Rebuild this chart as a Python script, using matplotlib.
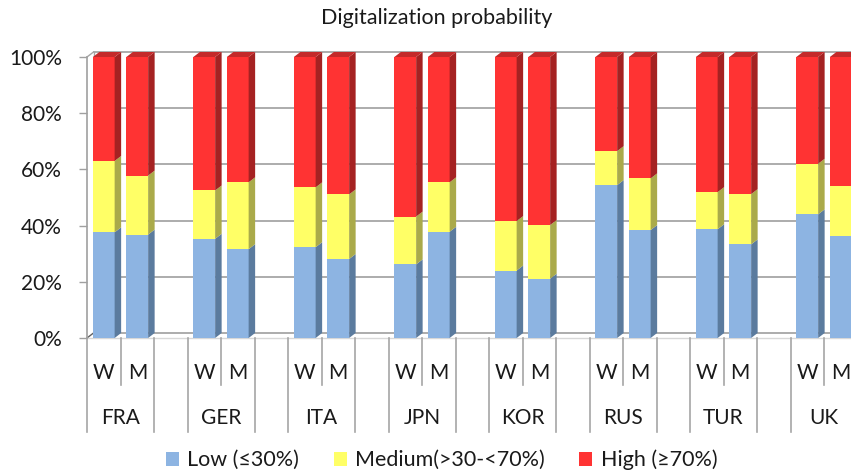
import matplotlib
matplotlib.use("Agg")
import matplotlib.pyplot as plt
from matplotlib.patches import Polygon, Patch
from matplotlib.ticker import FuncFormatter

FONT = ['Lato', 'DejaVu Sans']
plt.rcParams['font.family'] = FONT

countries = ['FRA', 'GER', 'ITA', 'JPN', 'KOR', 'RUS', 'TUR', 'UK']
sexes = ['W', 'M']
low_w = [37.6, 35.3, 32.3, 26.2, 24.0, 54.4, 38.7, 44.0]
low_m = [36.8, 31.6, 28.1, 37.8, 21.1, 38.4, 33.3, 36.4]
med_w = [25.4, 17.2, 21.3, 17.0, 17.6, 12.1, 13.2, 18.0]
med_m = [21.0, 23.8, 23.0, 17.6, 19.1, 18.4, 17.9, 17.8]
high_w = [37.0, 47.5, 46.4, 56.8, 58.4, 33.5, 48.1, 38.0]
high_m = [42.2, 44.6, 48.9, 44.6, 59.8, 43.2, 48.8, 45.8]
series_names = ['Low (≤30%)', 'Medium(>30-<70%)', 'High (≥70%)']
yticks = [0, 20, 40, 60, 80, 100]

front = ['#8DB4E2', '#FFFF66', '#FF3333']
side = ['#5B7B9E', '#AAAA4A', '#A52222']
top_col = ['#6F94C0', '#D0D050', '#C42A2A']
TXT = '#1A1A1A'

W, H = 851, 474
fig = plt.figure(figsize=(W / 100, H / 100), dpi=100)
left_px, bot_px, top_px, slot_px = 87, 338, 57, 33.5
ax = fig.add_axes([left_px / W, (H - bot_px) / H, (W - left_px) / W, (bot_px - top_px) / H])
xmax = -0.5 + (W - left_px) / slot_px
ax.set_xlim(-0.5, xmax)
ax.set_ylim(0, 100)
for s in ['top', 'right', 'bottom']:
    ax.spines[s].set_visible(False)
ax.spines['left'].set_color('#A0A0A0')
ax.spines['left'].set_linewidth(1.2)

dx = 6.5 / slot_px
dy = 5.0 / (bot_px - top_px) * 100
bw = 0.65

# back wall gridlines
for v in yticks:
    ax.plot([-0.5 + dx, xmax + 1], [v + dy, v + dy], color='#A6A6A6', lw=1.3, zorder=0, clip_on=False)
ax.plot([-0.5 + dx, -0.5 + dx], [dy, 100 + dy], color='#A6A6A6', lw=1.0, zorder=0, clip_on=False)
ax.plot([-0.5, -0.5 + dx], [100, 100 + dy], color='#A6A6A6', lw=1.0, zorder=0, clip_on=False)
ax.plot([-0.5, -0.5 + dx], [0, dy], color='#606060', lw=1.0, zorder=0, clip_on=False)
ax.plot([-0.5, xmax + 1], [0, 0], color='#D8D8D8', lw=1.0, zorder=0, clip_on=False)

data_w = [low_w, med_w, high_w]
data_m = [low_m, med_m, high_m]
for k in range(len(countries)):
    for s, dat in enumerate([data_w, data_m]):
        x = 3 * k + s
        bottom = 0
        for j in range(3):
            v = dat[j][k]
            ax.bar(x, v, bottom=bottom, width=bw, color=front[j], edgecolor='none', zorder=2)
            xr = x + bw / 2
            ax.add_patch(Polygon([(xr, bottom), (xr + dx, bottom + dy), (xr + dx, bottom + v + dy), (xr, bottom + v)],
                                 closed=True, facecolor=side[j], edgecolor='none', zorder=2, clip_on=False))
            bottom += v
        xl = x - bw / 2
        xr = x + bw / 2
        ax.add_patch(Polygon([(xl, bottom), (xl + dx, bottom + dy), (xr + dx, bottom + dy), (xr, bottom)],
                             closed=True, facecolor=top_col[2], edgecolor='none', zorder=2, clip_on=False))

ax.set_yticks(yticks)
ax.yaxis.set_major_formatter(FuncFormatter(lambda v, p: f'{int(v)}%'))
ax.tick_params(axis='y', length=6, width=1.0, color='#A0A0A0', pad=12, labelsize=15, labelcolor=TXT)
ax.set_xticks([])

# category axis
tr = ax.get_xaxis_transform()
short_y = -(385 - bot_px) / (bot_px - top_px)
long_y = -(432 - bot_px) / (bot_px - top_px)
for k in range(len(countries) + 1):
    for b in [3 * k - 0.5, 3 * k + 1.5]:
        ax.plot([b, b], [0, long_y], transform=tr, color='#A6A6A6', lw=1.2, clip_on=False)
    if k < len(countries):
        b = 3 * k + 0.5
        ax.plot([b, b], [0, short_y], transform=tr, color='#A6A6A6', lw=1.2, clip_on=False)
wm_y = -(373 - bot_px) / (bot_px - top_px)
c_y = -(418 - bot_px) / (bot_px - top_px)
for k, c in enumerate(countries):
    for s, lab in enumerate(sexes):
        ax.text(3 * k + s, wm_y, lab, transform=tr, ha='center', va='center', fontsize=15, color=TXT)
    ax.text(3 * k + 0.5, c_y, c, transform=tr, ha='center', va='center', fontsize=15, color=TXT)

fig.text(0.513, 1 - 18 / H, 'Digitalization probability', ha='center', va='center', fontsize=15.5, color=TXT)

handles = [Patch(facecolor=front[j], edgecolor='none') for j in range(3)]
fig.legend(handles, series_names, loc='center', bbox_to_anchor=(0.519, 1 - 460 / H), ncol=3, frameon=False,
           fontsize=15.5, handlelength=0.6, handleheight=0.6, handletextpad=0.4, columnspacing=1.6,
           labelcolor=TXT)

fig.savefig('out.png', dpi=100)
